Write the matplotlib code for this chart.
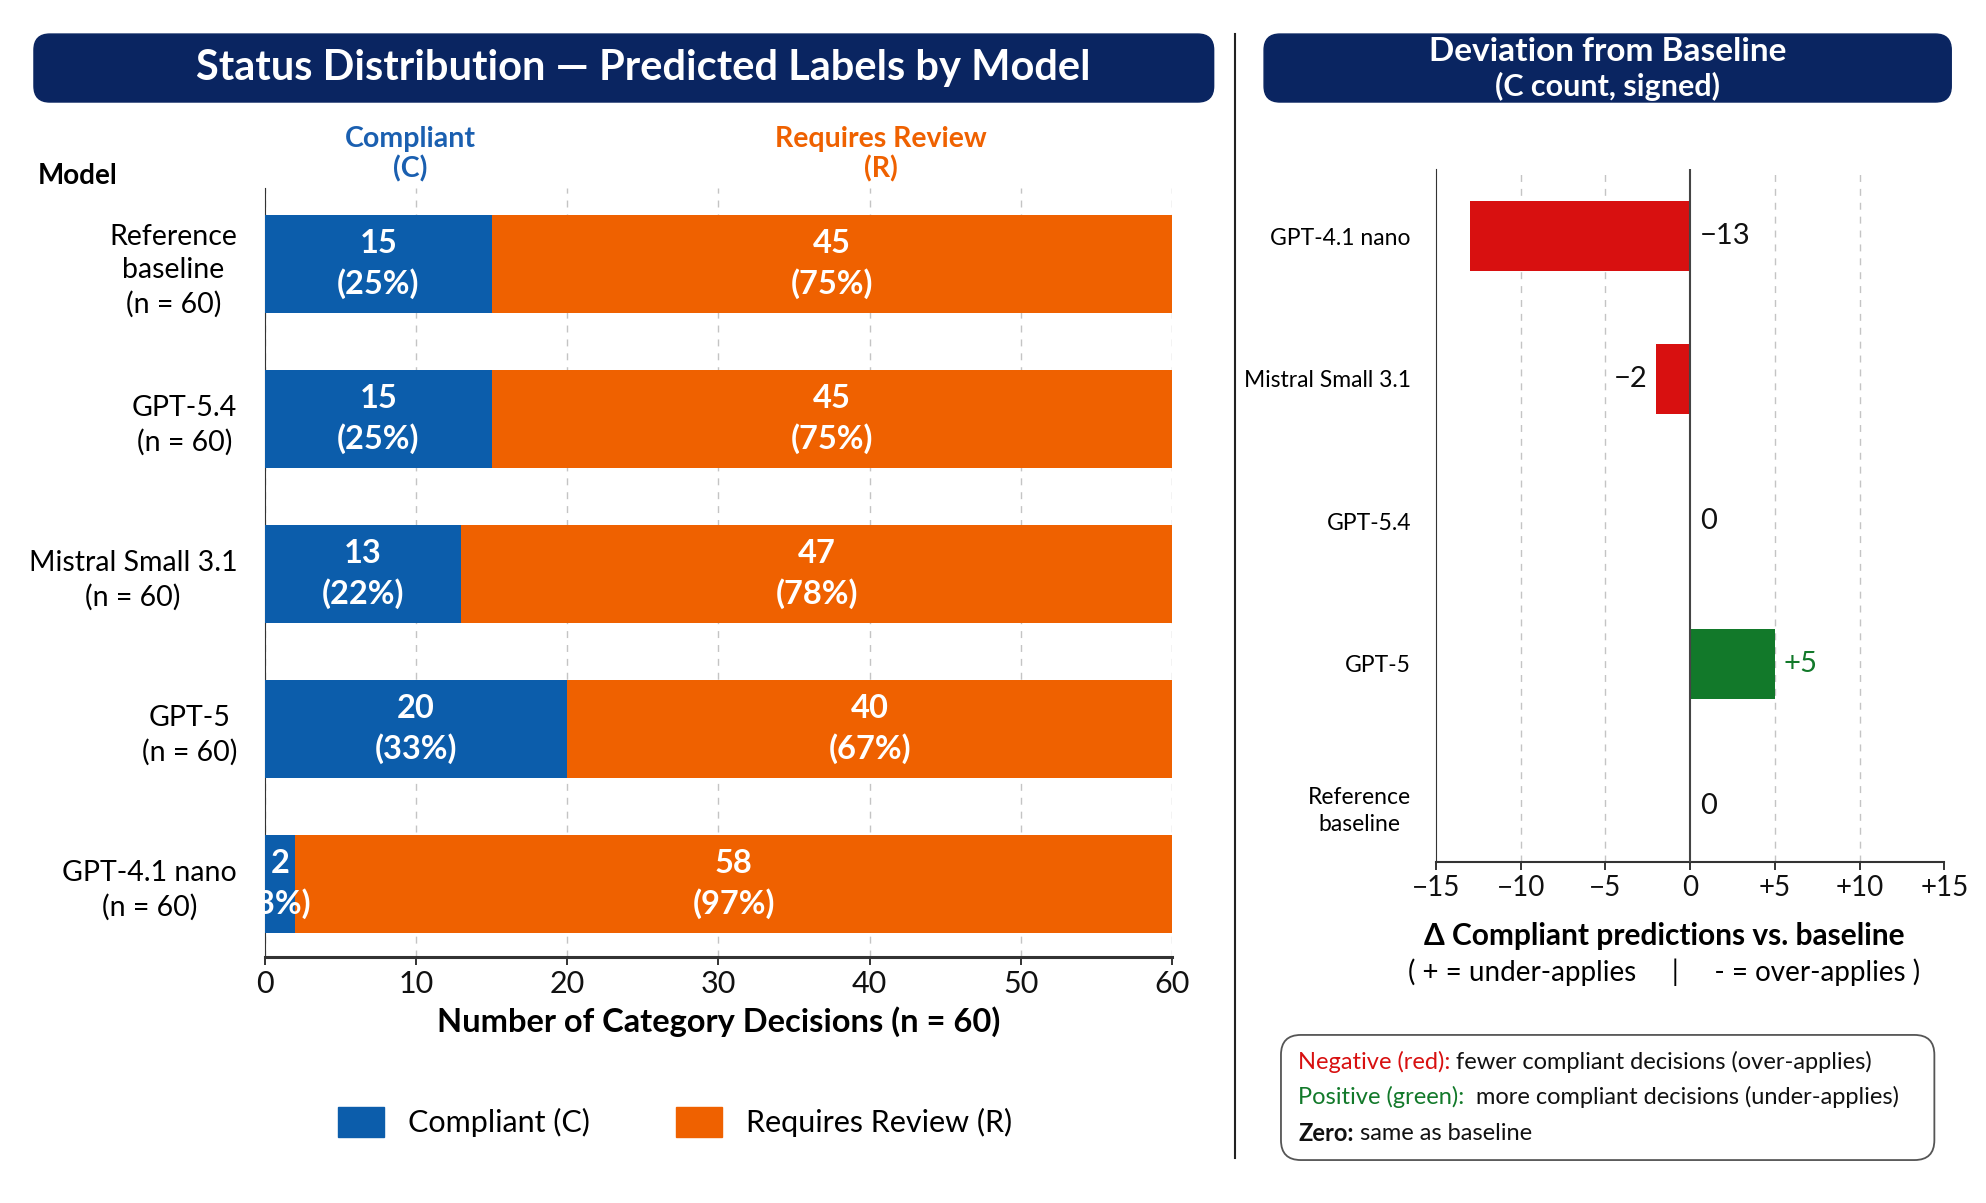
import matplotlib
matplotlib.use("Agg")
import matplotlib.pyplot as plt
from matplotlib.patches import FancyBboxPatch, Patch
from matplotlib.lines import Line2D

plt.rcParams['font.family'] = ['Lato', 'DejaVu Sans']

# data
models = ['Reference\nbaseline', 'GPT-5.4', 'Mistral Small 3.1', 'GPT-5', 'GPT-4.1 nano']
n_total = [60, 60, 60, 60, 60]
compliant = [15, 15, 13, 20, 2]
review = [45, 45, 47, 40, 58]

# deviation panel: top to bottom
dev_models = ['GPT-4.1 nano', 'Mistral Small 3.1', 'GPT-5.4', 'GPT-5', 'Reference\nbaseline']
dev_values = [-13, -2, 0, 5, 0]
dev_ticks = [-15, -10, -5, 0, 5, 10, 15]
dev_ticklabels = ['\u221215', '\u221210', '\u22125', '0', '+5', '+10', '+15']

BLUE = '#0c5dab'
ORANGE = '#ef6100'
NAVY = '#0a2561'
RED = '#d81010'
GREEN = '#12792a'
DARK = '#111111'

fig = plt.figure(figsize=(19.86, 12.03), dpi=100)

# ---------- banners ----------
def banner(x, y, w, h):
    p = FancyBboxPatch((x, y), w, h, boxstyle="round,pad=0,rounding_size=0.008",
                       transform=fig.transFigure, facecolor=NAVY, edgecolor=NAVY,
                       mutation_aspect=1986 / 1203)
    fig.add_artist(p)

banner(0.0171, 0.9152, 0.594, 0.0565)
fig.text(0.324, 0.9435, 'Status Distribution \u2014 Predicted Labels by Model', color='white',
         fontsize=30, fontweight='bold', ha='center', va='center')

banner(0.6365, 0.9152, 0.346, 0.0565)
fig.text(0.8095, 0.9570, 'Deviation from Baseline', color='white',
         fontsize=24, fontweight='bold', ha='center', va='center')
fig.text(0.8095, 0.9285, '(C count, signed)', color='white',
         fontsize=22, fontweight='bold', ha='center', va='center')

# divider
fig.add_artist(Line2D([0.6219, 0.6219], [0.0374, 0.9717], transform=fig.transFigure,
                      color='#222222', lw=1.5))

# ---------- left panel ----------
ax = fig.add_axes([0.1334, 0.2045, 0.4567, 0.639])
ypos = list(range(len(models)))
ax.barh(ypos, compliant, height=0.63, color=BLUE, zorder=3)
ax.barh(ypos, review, left=compliant, height=0.63, color=ORANGE, zorder=3)

for i in ypos:
    c, r, n = compliant[i], review[i], n_total[i]
    ax.text(c / 2, i, f'{c}\n({round(100 * c / n)}%)', ha='center', va='center',
            color='white', fontsize=23.5, fontweight='bold', linespacing=1.4, zorder=4)
    ax.text(c + r / 2, i, f'{r}\n({round(100 * r / n)}%)', ha='center', va='center',
            color='white', fontsize=23.5, fontweight='bold', linespacing=1.4, zorder=4)

ax.set_xlim(0, 60)
ax.set_ylim(4.47, -0.49)
ax.set_xticks([0, 10, 20, 30, 40, 50, 60])
ax.set_yticks(ypos)
ax.set_yticklabels([f'{m}\n(n = {n})' for m, n in zip(models, n_total)],
                   fontsize=20.5, linespacing=1.35)
for t in ax.get_yticklabels():
    t.set_multialignment('center')
ax.tick_params(axis='x', labelsize=22, length=6, width=1.2, colors=DARK)
ax.tick_params(axis='y', length=0, pad=20)
ax.xaxis.grid(True, linestyle=(0, (5, 5)), color='#c4c4c4', lw=1, zorder=0)
for s in ['top', 'right']:
    ax.spines[s].set_visible(False)
ax.spines['left'].set_color('#333333')
ax.spines['bottom'].set_linewidth(2.2)
ax.spines['bottom'].set_color('#333333')
ax.set_xlabel('Number of Category Decisions (n = 60)', fontsize=23.5, fontweight='bold',
              labelpad=6)

fig.text(0.019, 0.854, 'Model', fontsize=20, fontweight='bold', ha='left', va='center')
fig.text(0.2064, 0.872, 'Compliant\n(C)', color='#1a5fb0', fontsize=20.5,
         fontweight='bold', ha='center', va='center', linespacing=1.15)
fig.text(0.4435, 0.872, 'Requires Review\n(R)', color=ORANGE, fontsize=20.5,
         fontweight='bold', ha='center', va='center', linespacing=1.15)

handles = [Patch(color=BLUE, label='Compliant (C)'),
           Patch(color=ORANGE, label='Requires Review (R)')]
fig.legend(handles=handles, loc='center', bbox_to_anchor=(0.340, 0.067), ncol=2,
           frameon=False, fontsize=22, handlelength=1.5, handleheight=1.1,
           columnspacing=2.8, handletextpad=0.8)

# ---------- right panel ----------
ax2 = fig.add_axes([0.723, 0.2835, 0.256, 0.576])
ypos2 = list(range(len(dev_models)))
colors2 = [RED if v < 0 else GREEN for v in dev_values]
ax2.barh(ypos2, dev_values, height=0.49, color=colors2, zorder=3)
ax2.axvline(0, color='#444444', lw=1.5, zorder=4)

for i, v in enumerate(dev_values):
    if v > 0:
        ax2.text(v + 0.5, i, f'+{v}', ha='left', va='center', color=GREEN, fontsize=21)
    elif v == 0:
        ax2.text(0.6, i, '0', ha='left', va='center', color=DARK, fontsize=21)
    elif v < -5:
        ax2.text(0.6, i, f'\u2212{-v}', ha='left', va='center', color=DARK, fontsize=21)
    else:
        ax2.text(v - 0.5, i, f'\u2212{-v}', ha='right', va='center', color=DARK, fontsize=21)

ax2.set_xlim(-15, 15)
ax2.set_ylim(4.39, -0.47)
ax2.set_xticks(dev_ticks)
ax2.set_xticklabels(dev_ticklabels)
ax2.set_yticks(ypos2)
ax2.set_yticklabels(dev_models, fontsize=16.5, linespacing=1.35)
for t in ax2.get_yticklabels():
    t.set_multialignment('center')
ax2.tick_params(axis='x', labelsize=20, length=6, width=1.2, colors=DARK)
ax2.tick_params(axis='y', length=0, pad=18)
for g in [-10, -5, 5, 10]:
    ax2.axvline(g, color='#c4c4c4', lw=1, linestyle=(0, (5, 5)), zorder=0)
for s in ['top', 'right']:
    ax2.spines[s].set_visible(False)
ax2.spines['left'].set_color('#333333')
ax2.spines['bottom'].set_color('#333333')
ax2.spines['bottom'].set_linewidth(1.5)

fig.text(0.838, 0.222, '\u0394 Compliant predictions vs. baseline', fontsize=21.5,
         fontweight='bold', ha='center', va='center')
fig.text(0.838, 0.192, '( + = under-applies     |     - = over-applies )', fontsize=20,
         ha='center', va='center')

# explanation box
box = FancyBboxPatch((0.645, 0.0357), 0.329, 0.104,
                     boxstyle="round,pad=0,rounding_size=0.01",
                     transform=fig.transFigure, facecolor='white', edgecolor='#555555',
                     lw=1.3, mutation_aspect=1986 / 1203)
fig.add_artist(box)

renderer = fig.canvas.get_renderer()
rows = [(('Negative (red):', RED, 'normal'), (' fewer compliant decisions (over-applies)', DARK), 0.117),
        (('Positive (green):', GREEN, 'normal'), ('  more compliant decisions (under-applies)', DARK), 0.088),
        (('Zero:', DARK, 'bold'), (' same as baseline', DARK), 0.058)]
for (lab, col, wt), (rest, rcol), yy in rows:
    t = fig.text(0.6536, yy, lab, color=col, fontsize=17, fontweight=wt, ha='left', va='center')
    bb = t.get_window_extent(renderer=renderer)
    x_next = bb.x1 / fig.bbox.width
    fig.text(x_next, yy, rest, color=rcol, fontsize=17, ha='left', va='center')

fig.savefig('out.png', dpi=100, facecolor='white')
